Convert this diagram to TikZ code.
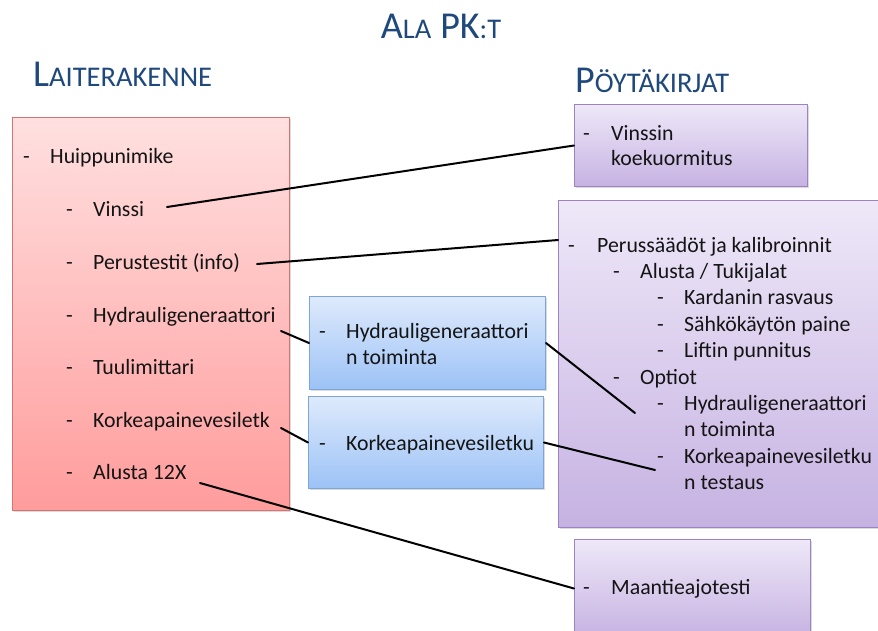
\documentclass[tikz,border=0pt]{standalone}
\usepackage{fontspec}
\setmainfont{Carlito}
\usetikzlibrary{shadows}

\definecolor{titleblue}{HTML}{1F497D}
\definecolor{redtop}{HTML}{FFE0E0}
\definecolor{redbot}{HTML}{FF9C9C}
\definecolor{redline}{HTML}{D27474}
\definecolor{purtop}{HTML}{EEE8F8}
\definecolor{purbot}{HTML}{C6B2E2}
\definecolor{purline}{HTML}{9C84C2}
\definecolor{blutop}{HTML}{DEEAFC}
\definecolor{blubot}{HTML}{9CC2F6}
\definecolor{bluline}{HTML}{7DA5D8}
\definecolor{ink}{HTML}{141414}

% fake small caps for the headings
\newcommand\capbig[1]{{\fontsize{38}{40}\selectfont #1}}
\newcommand\capsml[1]{{\fontsize{28.5}{30}\selectfont #1}}

% one list line: name, dash x, text x, baseline y, text
\newcommand\listline[5]{%
  \node[txt] (#1-dash) at (#2,#4) {-};
  \node[txt] (#1) at (#3,#4) {#5};}

\begin{document}
\begin{tikzpicture}[x=1pt,y=-1pt,
  txt/.style={anchor=base west,inner sep=0pt,text=ink,
    font=\fontsize{21.8}{26.4}\selectfont},
  heading/.style={anchor=base west,inner sep=0pt,text=titleblue},
  panel/.style={anchor=north west,inner sep=0pt,line width=1pt,
    drop shadow={opacity=0.28,shadow xshift=1.2pt,shadow yshift=-1.6pt}},
  redbox/.style={panel,draw=redline,top color=redtop,bottom color=redbot},
  purbox/.style={panel,draw=purline,top color=purtop,bottom color=purbot},
  blubox/.style={panel,draw=bluline,top color=blutop,bottom color=blubot},
  conn/.style={draw=black,line width=2pt,line cap=round}]

\useasboundingbox (0,0) rectangle (878,630);
\clip (0,0) rectangle (878,630);
\fill[white] (0,0) rectangle (878,630);

% headings
\node[anchor=base,inner sep=0pt,text=titleblue] (title) at (441,38)
  {\capbig{A}\capsml{LA}\hspace{9pt}\capbig{PK}\capsml{:T}};
\node[heading] (lhead) at (33,86) {\capbig{L}\capsml{AITERAKENNE}};
\node[heading] (rhead) at (575,92) {\capbig{P}\capsml{ÖYTÄKIRJAT}};

% panels
\node[redbox,minimum width=277pt,minimum height=393pt] (lait) at (12,117) {};
\node[blubox,minimum width=236pt,minimum height=93pt] (hg) at (309,296) {};
\node[blubox,minimum width=235pt,minimum height=92pt] (kp) at (308,396) {};
\node[purbox,minimum width=233pt,minimum height=82pt] (pk1) at (574,104) {};
\node[purbox,minimum width=322pt,minimum height=327pt] (pk2) at (558,200) {};
\node[purbox,minimum width=236pt,minimum height=98pt] (pk3) at (574,539) {};

% equipment structure
\listline{huippu}{23}{50}{163}{Huippunimike}
\listline{vinssi}{66}{93}{216}{Vinssi}
\listline{perus}{66}{93}{269}{Perustestit (info)}
\listline{hydr}{66}{93}{322}{Hydrauligeneraattori}
\listline{tuuli}{66}{93}{374}{Tuulimittari}
\listline{korke}{66}{93}{427}{Korkeapainevesiletk}
\listline{alusta}{66}{93}{479}{Alusta 12X}

% intermediate boxes
\listline{hgA}{319}{346}{338}{Hydrauligeneraattori}
\node[txt] (hgB) at (346,364) {n toiminta};
\listline{kpA}{319}{346}{450}{Korkeapainevesiletku}

% protocols
\listline{vinA}{583}{611}{140}{Vinssin}
\node[txt] (vinB) at (611,165) {koekuormitus};

\listline{pA}{568}{597}{252}{Perussäädöt ja kalibroinnit}
\listline{pB}{613}{640}{278.4}{Alusta / Tukijalat}
\listline{pC}{657}{684}{304.8}{Kardanin rasvaus}
\listline{pD}{657}{684}{331.2}{Sähkökäytön paine}
\listline{pE}{657}{684}{357.6}{Liftin punnitus}
\listline{pF}{613}{640}{384}{Optiot}
\listline{pG}{657}{684}{410.4}{Hydrauligeneraattori}
\node[txt] (pH) at (684,436.8) {n toiminta};
\listline{pI}{657}{684}{463.2}{Korkeapainevesiletku}
\node[txt] (pJ) at (684,489.6) {n testaus};

\listline{maant}{583}{611}{594}{Maantieajotesti}

% connector ends
\coordinate (vinEnd) at (167,207);
\coordinate (perEnd) at (257,264);
\coordinate (perTip) at (558,240);
\coordinate (hydEnd) at (281,331);
\coordinate (hgTip) at (635,413);
\coordinate (korEnd) at (281,428);
\coordinate (kpTip) at (655,470);
\coordinate (aluEnd) at (200,483);

% connectors
\draw[conn] (vinEnd) -- (pk1.west);
\draw[conn] (perEnd) -- (perTip);
\draw[conn] (hydEnd) -- (hg.west);
\draw[conn] (hg.east) -- (hgTip);
\draw[conn] (korEnd) -- (kp.west);
\draw[conn] (kp.east) -- (kpTip);
\draw[conn] (aluEnd) -- (pk3.west);
\end{tikzpicture}
\end{document}
